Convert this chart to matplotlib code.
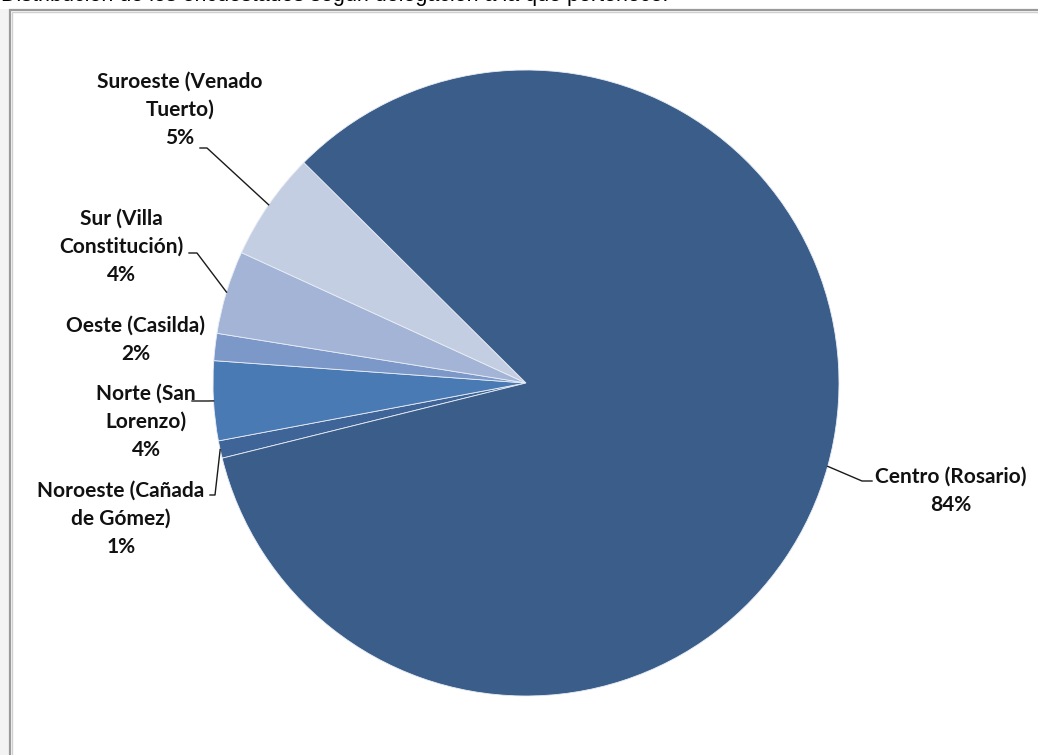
import numpy as np
import matplotlib
matplotlib.use("Agg")
import matplotlib.pyplot as plt
from matplotlib.patches import Rectangle

# ---- data ----
categories = ["Noroeste (Cañada\nde Gómez)", "Norte (San\nLorenzo)", "Oeste (Casilda)",
              "Sur (Villa\nConstitución)", "Suroeste (Venado\nTuerto)", "Centro (Rosario)"]
values = [0.9, 4.1, 1.4, 4.3, 5.6, 83.7]
pct_labels = ["1%", "4%", "2%", "4%", "5%", "84%"]
colors = ["#3F6598", "#4A7AB4", "#7C98C9", "#A3B4D6", "#C4CEE2", "#3A5D8A"]
title = "Distribución de los encuestados según delegación a la que pertenece:"

W, H = 1038, 755
fig = plt.figure(figsize=(W / 100, H / 100), dpi=100)
ax = fig.add_axes([0, 0, 1, 1])
ax.set_xlim(0, W)
ax.set_ylim(0, H)
ax.set_aspect("equal")
ax.axis("off")

# background strip and frame
ax.add_patch(Rectangle((0, 0), 9, H - 9, facecolor="#f3f3f3", edgecolor="none", zorder=0))
ax.plot([10, 10, W + 5], [-5, H - 10, H - 10], color="#9a9a9a", lw=1.6, zorder=1,
        solid_joinstyle="miter")
ax.plot([12, 12, W + 5], [-5, H - 12, H - 12], color="#d0d0d0", lw=1.0, zorder=1,
        solid_joinstyle="miter")

ax.text(1, H - 1.5, title, fontsize=15.5, family="Liberation Sans", va="baseline", ha="left",
        color="#000000")

cx, cy, R = 526, H - 383, 313
start = 193.9
wedges, _ = ax.pie(values, colors=colors, startangle=start, counterclock=False,
                   center=(cx, cy), radius=R, frame=True,
                   wedgeprops=dict(edgecolor="#e8edf5", linewidth=0.6))
ax.set_xlim(0, W)
ax.set_ylim(0, H)
ax.axis("off")

font = dict(family=["Lato", "DejaVu Sans"], fontweight="bold", fontsize=15,
            color="#111111", ha="center", va="top", linespacing=1.5)

# label anchor (top-centre in pixel coords) and leader polylines (label side)
label_pos = {
    0: (121, 481),
    1: (146, 384),
    2: (136, 316),
    3: (121, 209),
    4: (180, 72),
    5: (951, 467),
}
leader_start = {
    0: [(210, 495), (215, 495)],
    1: [(192, 401), (207, 401)],
    3: [(189, 253), (197, 253)],
    4: [(200, 148), (207, 148)],
    5: [(872, 481), (862, 481)],
}

for i, w in enumerate(wedges):
    x, y = label_pos[i]
    ax.text(x, H - y, categories[i] + "\n" + pct_labels[i], **font)
    if i in leader_start:
        mid = np.deg2rad((w.theta1 + w.theta2) / 2)
        ex, ey = cx + R * np.cos(mid), cy + R * np.sin(mid)
        pts = leader_start[i]
        xs = [p[0] for p in pts] + [ex]
        ys = [H - p[1] for p in pts] + [ey]
        ax.plot(xs, ys, color="#1a1a1a", lw=1.0, zorder=5)

fig.savefig("out.png", dpi=100)
